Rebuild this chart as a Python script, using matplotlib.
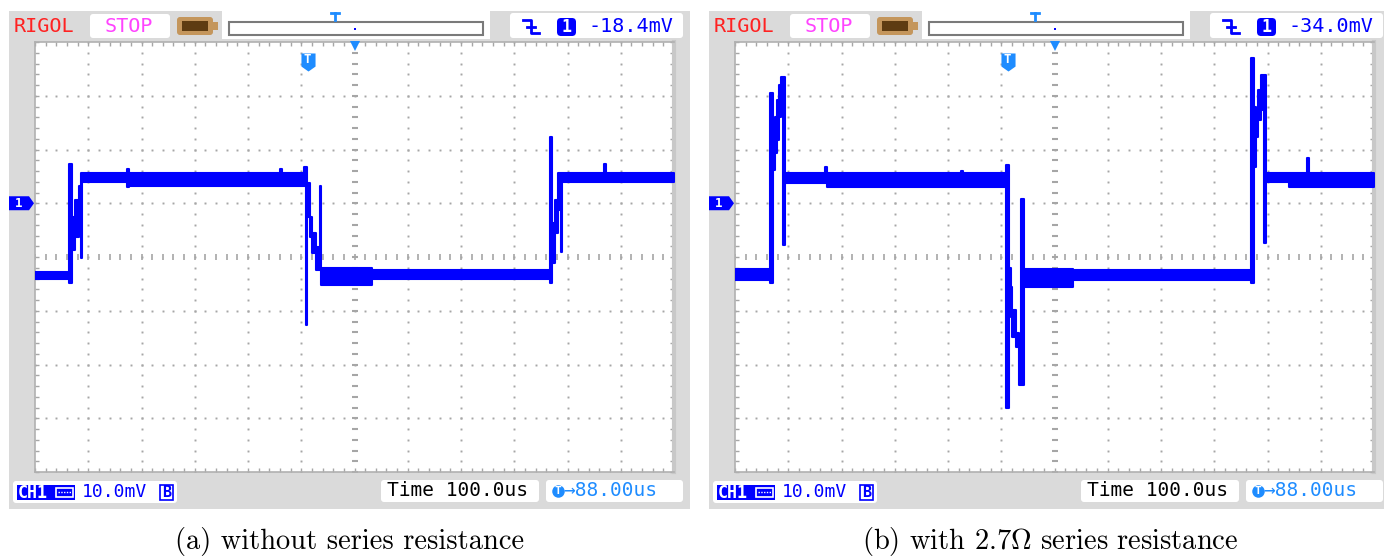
import numpy as np
import matplotlib.pyplot as plt
from matplotlib.patches import Rectangle, FancyBboxPatch, Polygon
from matplotlib.path import Path
from matplotlib.transforms import blended_transform_factory

plt.rcParams['mathtext.fontset'] = 'cm'

W, H = 1384, 557

# scope settings: 100 us/div, 10 mV/div, 12 x 8 divisions, trigger at t = 0
t_left, t_right = -512, 688
v_bottom, v_top = -50, 30

# (a) trace, drawn as a step band: time (us), upper and lower edge (mV)
t_a = [-512, -448, -442, -436, -430, -426, -423, -339, -336, -51, -49, -6, -4, -1,
       4, 9, 15, 22.5, 24.5, 120, 456, 459, 465, 471, 476, 478, 557, 560, 688]
hi_a = [-12.8, 7.3, -2.6, 0.6, 3.3, 5.6, 5.6, 6.3, 5.6, 6.3, 5.6, 6.7, 6.7, 3.7,
        -2.6, -5.6, -8.2, 3.2, -12.1, -12.5, 12.3, -3.7, 0.6, 5.6, 5.6, 5.6, 7.3, 5.6, 5.6]
lo_a = [-14.1, -14.9, -8.7, -6.3, -3.7, -10.2, 3.9, 3.0, 3.2, 3.2, 3.2, 3.2, -22.7, -2.6,
        -6.3, -9.3, -12.5, -12.5, -15.3, -14.0, -14.9, -11.2, -5.6, -1.3, -9.1, 3.9, 3.9, 3.9, 3.9]

# (b) trace
t_b = [-512, -446, -441, -437, -433, -429, -426, -422, -418, -343, -339, -88, -84, -4,
       2, 6, 9, 15, 21, 26, 30, 122, 457.5, 463, 467, 471, 476, 482, 486, 529, 562, 566, 688]
hi_b = [-12.3, 20.5, 14.9, 16.0, 19.2, 22.0, 23.4, 23.4, 5.6, 6.7, 5.6, 6.0, 5.6, 7.1,
        -12.1, -15.6, -19.9, -24.2, -26.0, 0.7, -12.3, -12.5, 27.0, 17.9, 16.0, 21.0, 23.8,
        23.8, 5.6, 5.6, 8.4, 5.6, 5.6]
lo_b = [-14.3, -14.9, 6.1, 9.3, 11.7, 16.0, 17.3, -7.8, 3.7, 3.7, 3.0, 3.0, 3.0, -38.1,
        -20.5, -21.2, -24.9, -26.8, -33.9, -33.9, -15.6, -14.3, -14.9, 6.7, 12.3, 15.4, 17.3,
        -7.4, 3.9, 3.0, 3.0, 3.0, 3.0]

trig_level = ["-18.4mV", "-34.0mV"]
captions = ["(a) without series resistance", r"(b) with $2.7\Omega$ series resistance"]

grey = '#dadada'
dotc = '#a6a6a6'
blue = '#0000ff'
lblue = '#1e8cff'
mono = 'DejaVu Sans Mono'

fig = plt.figure(figsize=(W / 100, H / 100), dpi=100)
bg = fig.add_axes([0, 0, 1, 1])
bg.set_xlim(0, W)
bg.set_ylim(H, 0)
bg.axis('off')


def rbox(x, y, w, h, fc, r=3, ec='none', lw=0):
    bg.add_patch(FancyBboxPatch((x, y), w, h, boxstyle=f'round,pad=0,rounding_size={r}',
                                fc=fc, ec=ec, lw=lw))


traces = [(t_a, hi_a, lo_a), (t_b, hi_b, lo_b)]
for i, dx in enumerate([0, 700]):
    t, hi, lo = traces[i]

    # instrument frame
    bg.add_patch(Rectangle((9 + dx, 11), min(681, W - 9 - dx), 498, fc=grey, ec='none'))

    # top status bar
    bg.text(14 + dx, 27, 'RIGOL', color='#ff2222', fontsize=14.5, family=mono,
            va='center', ha='left')
    rbox(90 + dx, 14, 80, 24, 'white')
    bg.text(129 + dx, 27, 'STOP', color='#ff44ff', fontsize=14.5, family=mono,
            va='center', ha='center')
    rbox(177 + dx, 17, 36, 18, '#c4965c', r=3)
    bg.add_patch(Rectangle((213 + dx, 22), 5, 8, fc='#c4965c', ec='none'))
    bg.add_patch(Rectangle((182 + dx, 21), 26, 10, fc='#5e3c12', ec='none'))
    bg.add_patch(Rectangle((222 + dx, 11), 268, 28, fc='white', ec='none'))
    bg.add_patch(Rectangle((229 + dx, 22), 254, 13, fc='white', ec='#7a7a7a', lw=1.5))
    bg.plot([331 + dx, 339 + dx], [13, 13], color=lblue, lw=2)
    bg.plot([335 + dx, 335 + dx], [13, 20], color=lblue, lw=2)
    bg.plot(355 + dx, 29, marker='s', ms=1.5, color=blue, mew=0)
    rbox(510 + dx, 13, 173, 25, 'white')
    bg.plot(np.array([523, 531, 531, 539]) + dx, [20, 20, 33, 33], color=blue, lw=2)
    bg.plot(np.array([527, 535]) + dx, [26.5, 26.5], color=blue, lw=2)
    rbox(557 + dx, 18, 19, 18, blue, r=4)
    bg.text(566.5 + dx, 27.5, '1', color='white', fontsize=12, family=mono,
            fontweight='bold', va='center', ha='center')
    bg.text(588 + dx, 27, trig_level[i], color=blue, fontsize=14.5, family=mono,
            va='center', ha='left')

    # bottom status bar
    rbox(13 + dx, 481, 164, 22, 'white')
    bg.add_patch(Rectangle((17 + dx, 485), 58, 15, fc=blue, ec='none'))
    bg.text(18 + dx, 493, 'CH1', color='white', fontsize=12, family=mono,
            fontweight='bold', va='center', ha='left')
    bg.add_patch(Rectangle((56 + dx, 488), 17, 9, fc='none', ec='white', lw=1.2))
    bg.plot(np.array([58, 71]) + dx, [492, 492], color='white', lw=1, ls=(0, (1, 1)))
    bg.text(82 + dx, 492, '10.0mV', color=blue, fontsize=13, family=mono,
            va='center', ha='left')
    bg.add_patch(Rectangle((160 + dx, 485), 13, 15, fc='none', ec=blue, lw=1.2))
    bg.text(166.5 + dx, 492.5, 'B', color=blue, fontsize=11, family=mono,
            fontweight='bold', va='center', ha='center')
    rbox(381 + dx, 480, 158, 22, 'white')
    bg.text(387 + dx, 491, 'Time 100.0us', color='black', fontsize=14, family=mono,
            va='center', ha='left')
    rbox(546 + dx, 480, 137, 22, 'white')
    bg.plot(558 + dx, 491, marker='o', ms=9, color=lblue, mew=0)
    bg.text(558 + dx, 491.5, 'T', color='white', fontsize=8, family=mono,
            fontweight='bold', va='center', ha='center')
    bg.text(563 + dx, 491, '\u219288.00us', color=lblue, fontsize=14, family=mono,
            va='center', ha='left')

    # caption
    bg.text(350 + dx, 541, captions[i], fontsize=20.5, family='cmr10',
            va='center', ha='center')

    # screen
    ax = fig.add_axes([(35 + dx) / W, (H - 472) / H, 639 / W, 430 / H])
    ax.set_xlim(t_left, t_right)
    ax.set_ylim(v_bottom, v_top)
    ax.set_facecolor('white')
    for s in ax.spines.values():
        s.set_color('#b0b0b0')
        s.set_linewidth(1.2)
    ax.spines['right'].set_color('#c8c8c8')
    ax.spines['right'].set_linewidth(3)
    fine_t = np.arange(t_left, t_right + 1, 20)
    fine_v = np.arange(v_bottom, v_top + 1, 2)
    ax.set_xticks(fine_t)
    ax.set_yticks(fine_v)
    ax.tick_params(direction='in', length=3, width=1, color=dotc, top=True, right=True,
                   labelbottom=False, labelleft=False)

    t_mid = t_left + 600
    v_mid = v_bottom + 40
    for x in np.arange(t_left + 100, t_right, 100):
        if x != t_mid:
            ax.plot(np.full(fine_v.size, x), fine_v, ls='none', marker='s', ms=1.4,
                    color=dotc, mew=0)
    for y in np.arange(v_bottom + 10, v_top, 10):
        if y != v_mid:
            ax.plot(fine_t, np.full(fine_t.size, y), ls='none', marker='s', ms=1.4,
                    color=dotc, mew=0)
    ax.plot(fine_t, np.full(fine_t.size, v_mid), ls='none', marker='|', ms=4,
            mew=1.2, color=dotc)
    ax.plot(np.full(fine_v.size, t_mid), fine_v, ls='none', marker='_', ms=5,
            mew=1.5, color=dotc)

    # waveform
    ax.fill_between(t, lo, hi, step='post', color=blue, lw=1.5, zorder=5)

    # trigger markers
    tmark = Path([(-0.78, 1), (0.78, 1), (0.78, -0.45), (0, -1), (-0.78, -0.45), (-0.78, 1)])
    ax.plot(0, 26.2, marker=tmark, ms=13, color=lblue, mew=0, zorder=6)
    ax.text(0, 26.8, 'T', color='white', fontsize=9, family=mono, fontweight='bold',
            va='center', ha='center', zorder=7)
    ax.plot(t_mid, v_top - 0.8, marker='v', ms=7, color=lblue, mew=0, clip_on=False,
            zorder=6)

    # channel 1 ground marker
    tr = blended_transform_factory(ax.transAxes, ax.transData)
    f = lambda px: (px - 35) / 639
    ax.add_patch(Polygon([(f(9), 1.3), (f(29), 1.3), (f(34), 0), (f(29), -1.3), (f(9), -1.3)],
                         closed=True, fc=blue, ec='none', transform=tr, clip_on=False))
    ax.text(f(19), 0, '1', color='white', fontsize=9, family=mono, fontweight='bold',
            va='center', ha='center', transform=tr)

fig.savefig('out.png', dpi=100)
